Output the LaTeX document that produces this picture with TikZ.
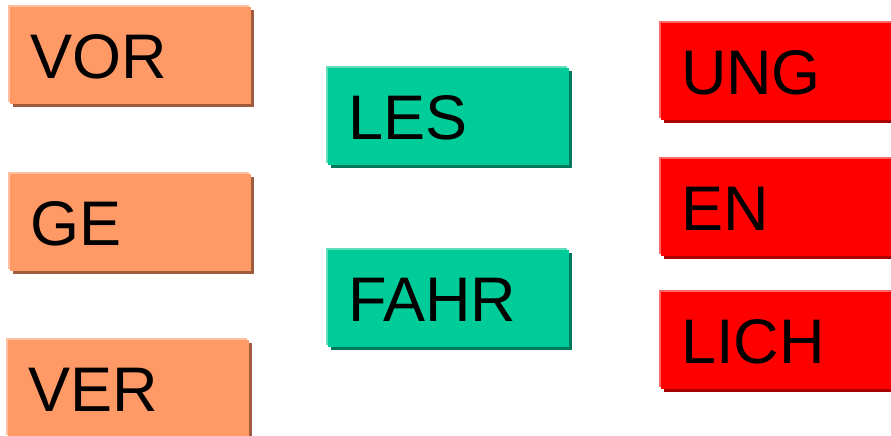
\documentclass[tikz,border=0pt]{standalone}
\usepackage{fontspec}
\setmainfont{Liberation Sans}
\usetikzlibrary{shadows}
\definecolor{orMain}{HTML}{FF9966}
\definecolor{orLight}{HTML}{FFBFA0}
\definecolor{orDark}{HTML}{A05A3C}
\definecolor{grMain}{HTML}{00CC99}
\definecolor{grLight}{HTML}{60DDBB}
\definecolor{grDark}{HTML}{007A5C}
\definecolor{rdMain}{HTML}{FF0000}
\definecolor{rdLight}{HTML}{FF6666}
\definecolor{rdDark}{HTML}{AA0000}
\tikzset{
  sylbox/.style n args={3}{
    rectangle, anchor=north west, inner ysep=0pt, inner xsep=20pt, outer sep=0pt,
    minimum width=241pt, minimum height=97pt,
    text width=201pt, align=left, text height=46pt, text depth=0pt,
    font=\fontsize{63pt}{68pt}\selectfont, text=black,
    general shadow={fill=#3, shadow xshift=3pt, shadow yshift=-3pt},
    general shadow={fill=#2, shadow xshift=-2pt, shadow yshift=2pt},
    fill=#1},
  prefbox/.style={sylbox={orMain}{orLight}{orDark}},
  stembox/.style={sylbox={grMain}{grLight}{grDark}},
  sufbox/.style={sylbox={rdMain}{rdLight}{rdDark}}
}
\begin{document}
\begin{tikzpicture}[x=1pt,y=-1pt]
\useasboundingbox (0,0) rectangle (891,436);
\clip (0,0) rectangle (891,436);
\node[prefbox] (vor) at (10,7) {VOR};
\node[prefbox] (ge) at (10,174) {GE};
\node[prefbox] (ver) at (8,340) {VER};
\node[stembox] (les) at (328,68) {LES};
\node[stembox] (fahr) at (328,250) {FAHR};
\node[sufbox] (ung) at (661,23) {UNG};
\node[sufbox] (en) at (661,159) {EN};
\node[sufbox] (lich) at (661,292) {LICH};
\end{tikzpicture}
\end{document}
